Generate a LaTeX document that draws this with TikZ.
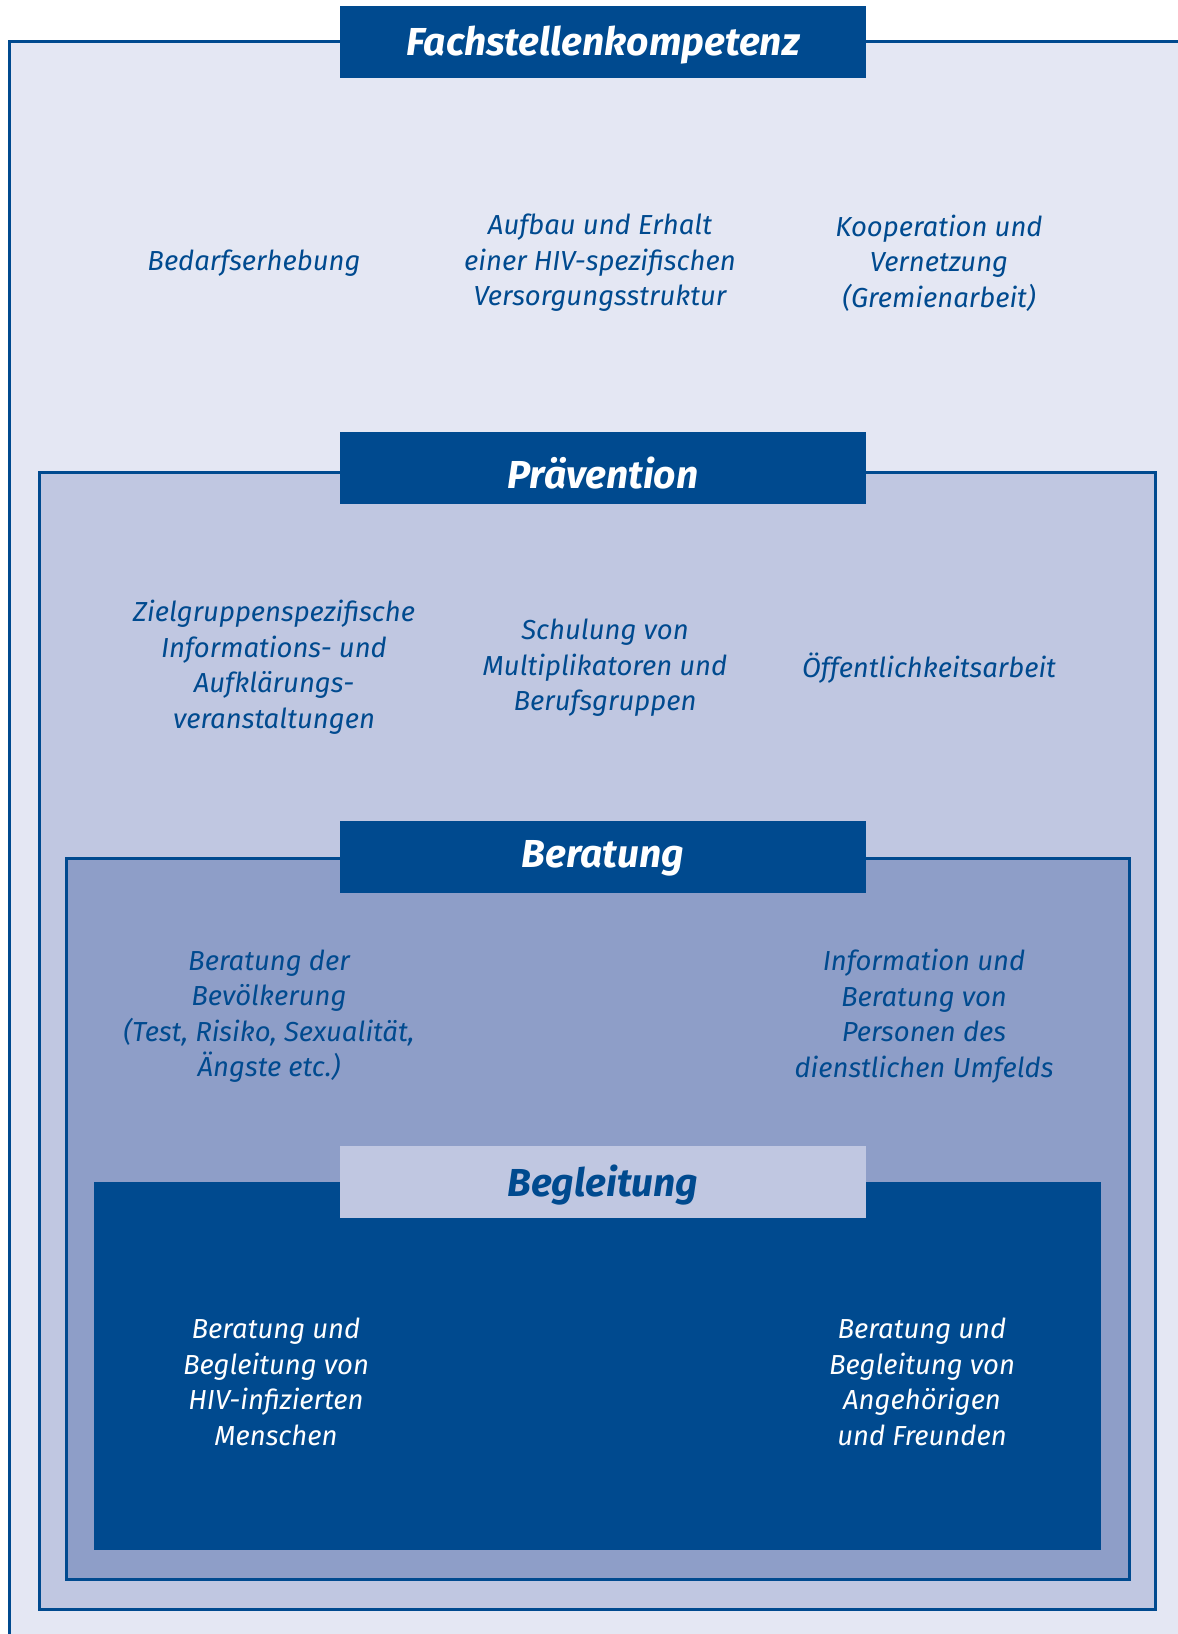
\documentclass[tikz,border=0pt]{standalone}
\usepackage{fontspec}
\setmainfont{Fira Sans}
\definecolor{dblue}{HTML}{004A8F}
\definecolor{fillA}{HTML}{E4E7F3}
\definecolor{fillB}{HTML}{C0C7E1}
\definecolor{fillC}{HTML}{8E9EC8}
\tikzset{
  frame/.style={draw=dblue, line width=3pt},
  titlebox/.style={fill=dblue, text=white},
  titletext/.style={font=\fontsize{39}{46}\selectfont\bfseries\itshape, inner sep=0pt},
  item/.style={font=\fontsize{27.5}{35.5}\selectfont\itshape, align=center, text=dblue, inner sep=0pt},
  itemw/.style={item, text=white},
}
\begin{document}
\begin{tikzpicture}[x=1pt,y=-1pt]
\useasboundingbox (0,0) rectangle (1178,1634);
\fill[white] (0,0) rectangle (1178,1634);
\begin{scope}
\clip (0,0) rectangle (1178,1634);
% outer box
\draw[frame, fill=fillA] (9,41) rectangle (1200,1660);
\end{scope}
\fill[titlebox] (340,6) rectangle (866,78);
\node[titletext, text=white] (t1) at (603,45) {Fachstellenkompetenz};
\node[item] (a1) at (254,263) {Bedarfserhebung};
\node[item] (a2) at (600,263) {Aufbau und Erhalt\\einer HIV-spezifischen\\Versorgungsstruktur};
\node[item] (a3) at (939,263) {Kooperation und\\Vernetzung\\(Gremienarbeit)};
% Praevention
\draw[frame, fill=fillB] (39.5,472) rectangle (1155.5,1609);
\fill[titlebox] (340,432) rectangle (866,504);
\node[titletext, text=white] (t2) at (603,473) {Prävention};
\node[item] (b1) at (274,667) {Zielgruppenspezifische\\Informations- und\\Aufklärungs-\\veranstaltungen};
\node[item] (b2) at (605,668) {Schulung von\\Multiplikatoren und\\Berufsgruppen};
\node[item] (b3) at (929,668) {Öffentlichkeitsarbeit};
% Beratung
\draw[frame, fill=fillC] (66,858) rectangle (1129,1579);
\fill[titlebox] (340,821) rectangle (866,893);
\node[titletext, text=white] (t3) at (603,858) {Beratung};
\node[item] (c1) at (269,1016) {Beratung der\\Bevölkerung\\(Test, Risiko, Sexualität,\\Ängste etc.)};
\node[item] (c2) at (924,1016) {Information und\\Beratung von\\Personen des\\dienstlichen Umfelds};
% Begleitung
\fill[dblue] (94,1182) rectangle (1101,1550);
\fill[fillB] (340,1146) rectangle (866,1218);
\node[titletext, text=dblue] (t4) at (603,1185) {Begleitung};
\node[itemw] (d1) at (276,1382) {Beratung und\\Begleitung von\\HIV-infizierten\\Menschen};
\node[itemw] (d2) at (922,1382) {Beratung und\\Begleitung von\\Angehörigen\\und Freunden};
\end{tikzpicture}
\end{document}
